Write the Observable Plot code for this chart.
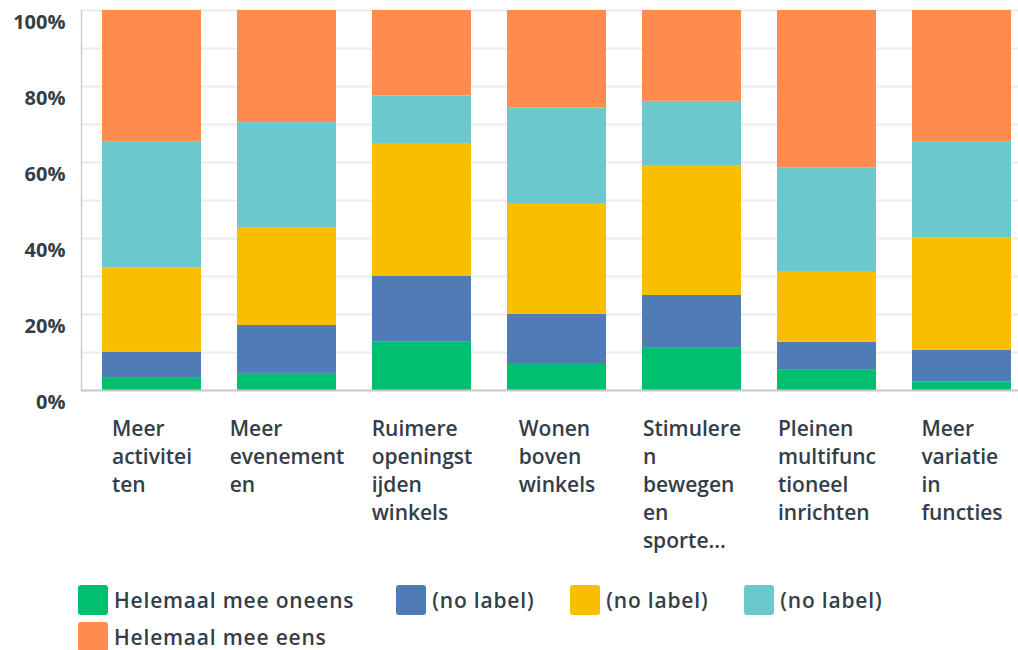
<!DOCTYPE html>
<html><head><meta charset="utf-8">
<script src="https://cdn.jsdelivr.net/npm/d3@7"></script>
<script src="https://cdn.jsdelivr.net/npm/@observablehq/plot@0.6"></script>
<style>
body{margin:0;background:#fff;font-family:"Open Sans",sans-serif;}
#chart svg{display:block;}
#legend{display:flex;flex-wrap:wrap;column-gap:36px;row-gap:7px;margin-left:78px;width:935px;margin-top:17px}
.item{display:flex;align-items:center;font-weight:600;font-size:21px;letter-spacing:0.8px;color:#333e48;height:30px;white-space:nowrap}
.item:first-child{margin-right:6px}
.sw{width:30px;height:30px;border-radius:3px;margin-right:6px;flex:none}
</style></head><body>
<div id="chart"></div><div id="legend"></div>
<script>
const categories = ["Meer activiteiten","Meer evenementen","Ruimere openingstijden winkels","Wonen boven winkels","Stimuleren bewegen en sporten","Pleinen multifunctioneel inrichten","Meer variatie in functies"];
const tickLabels = ["Meer\nactivitei\nten","Meer\nevenement\nen","Ruimere\nopeningst\nijden\nwinkels","Wonen\nboven\nwinkels","Stimulere\nn\nbewegen\nen\nsporte...","Pleinen\nmultifunc\ntioneel\ninrichten","Meer\nvariatie\nin\nfuncties"];
const seriesKeys = ["s1","s2","s3","s4","s5"];
const seriesLabels = ["Helemaal mee oneens","(no label)","(no label)","(no label)","Helemaal mee eens"];
const seriesColors = ["#00bf6f","#507cb6","#f9be00","#6bc8cd","#ff8b4f"];
const helemaalOneens = [3.4,4.5,12.7,7.1,11.1,5.5,2.2];
const noLabel2 = [6.7,12.6,17.3,13.0,13.9,7.2,8.4];
const noLabel3 = [22.1,25.8,35.0,28.9,34.0,18.4,29.5];
const noLabel4 = [33.3,27.6,12.5,25.3,17.1,27.4,25.4];
const helemaalEens = [34.5,29.5,22.5,25.7,23.9,41.5,34.5];
const yTicks = [0,20,40,60,80,100];
const yGrid = [10,20,30,40,50,60,70,80,90,100];

const seriesValues = [helemaalOneens,noLabel2,noLabel3,noLabel4,helemaalEens];
const data = [];
categories.forEach((c,i)=>seriesKeys.forEach((k,j)=>data.push({cat:c,key:k,value:seriesValues[j][i]})));

const textColor = "#333e48";
const labelFont = "600 21px 'Open Sans'";
const ctx = document.createElement("canvas").getContext("2d");
ctx.font = labelFont;
const blockW = tickLabels.map(t=>d3.max(t.split("\n"),l=>ctx.measureText(l).width));

const labelMarks = categories.map((c,i)=>Plot.text([tickLabels[i]],{
  x:()=>c, frameAnchor:"bottom", textAnchor:"start", lineAnchor:"top",
  dx:-blockW[i]/2, dy:26, lineHeight:28/21, fontSize:21, fontWeight:600,
  fill:textColor, fontFamily:"Open Sans"
}));

const chart = Plot.plot({
  width:1018, height:568,
  marginTop:10, marginBottom:178, marginLeft:81, marginRight:0,
  style:{fontFamily:"'Open Sans',sans-serif", background:"#fff"},
  x:{domain:categories, paddingInner:0.268, paddingOuter:0.097, align:0.76, axis:null},
  y:{domain:[0,100], axis:null},
  color:{domain:seriesKeys, range:seriesColors},
  marks:[
    Plot.gridY(yGrid,{stroke:"#ececec",strokeWidth:2,strokeOpacity:1}),
    Plot.frame({anchor:"left",stroke:"#cfcfcf",strokeWidth:1.5}),
    Plot.axisY(yTicks,{label:null,tickSize:0,tickPadding:16,dy:12,tickFormat:d=>d+"%",fontSize:20,fontWeight:700,fill:textColor,fontFamily:"Open Sans"}),
    Plot.barY(data,{x:"cat",y:"value",fill:"key"}),
    Plot.ruleY([0],{stroke:"#c8c8c8",strokeWidth:2}),
    ...labelMarks
  ]
});
document.getElementById("chart").append(chart);

const legend = document.getElementById("legend");
seriesKeys.forEach((k,j)=>{
  const it = document.createElement("div"); it.className="item";
  const sw = document.createElement("span"); sw.className="sw"; sw.style.background=seriesColors[j];
  const tx = document.createElement("span"); tx.textContent=seriesLabels[j];
  it.append(sw,tx); legend.append(it);
});
</script>
</body></html>
